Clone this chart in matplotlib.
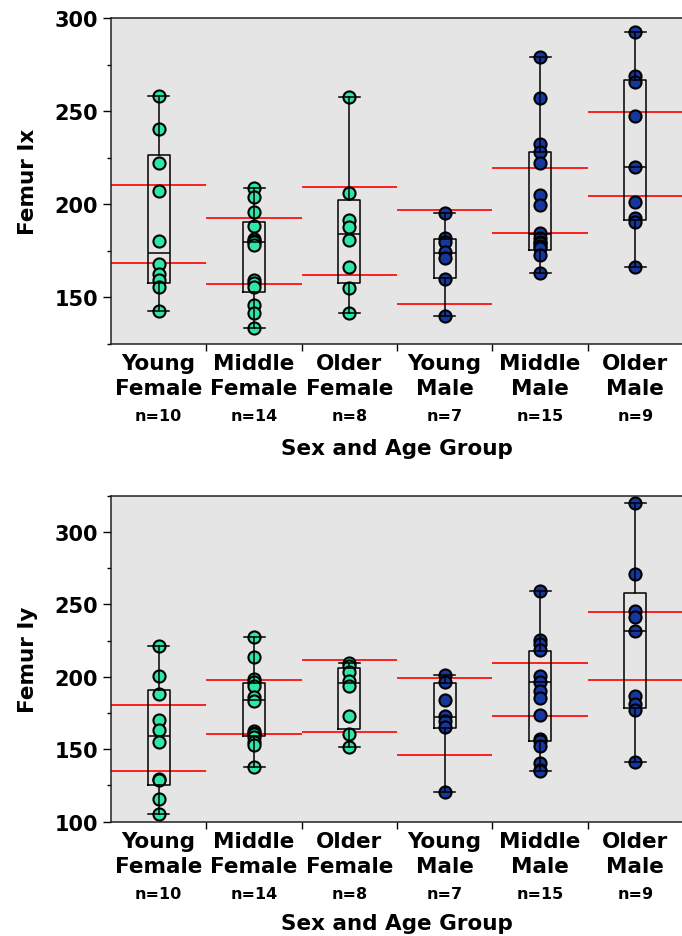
import numpy as np
import matplotlib
matplotlib.use('Agg')
import matplotlib.pyplot as plt
from matplotlib.ticker import MultipleLocator, FixedLocator

groups = ['Young\nFemale', 'Middle\nFemale', 'Older\nFemale',
          'Young\nMale', 'Middle\nMale', 'Older\nMale']
counts = [10, 14, 8, 7, 15, 9]
female_color = '#2ee6a6'
male_color = '#1437a0'
point_colors = [female_color]*3 + [male_color]*3

# Femur Ix per group
ix_points = [
  [258.2, 240.2, 222.1, 207.0, 180.4, 167.9, 162.5, 159.3, 155.4, 142.5],
  [208.5, 204.0, 195.8, 188.5, 181.1, 180.3, 179.9, 178.1, 159.3, 157.5, 155.4, 146.2, 141.8, 133.5],
  [257.3, 206.0, 191.5, 187.6, 181.0, 166.1, 154.8, 141.9],
  [195.3, 181.7, 179.9, 174.5, 171.3, 159.8, 139.8],
  [279.2, 256.8, 232.6, 228.2, 222.3, 204.9, 199.5, 184.7, 181.7, 180.0, 179.0, 177.5, 176.3, 172.7, 162.9],
  [292.6, 269.0, 265.4, 247.5, 219.8, 201.4, 192.8, 190.6, 166.1],
]
ix_q1 = [158.0, 152.9, 158.0, 160.2, 175.4, 191.5]
ix_med = [174.1, 179.9, 184.2, 174.0, 184.2, 219.8]
ix_q3 = [226.4, 190.6, 202.2, 181.3, 228.0, 266.6]
ix_band_lo = [168.4, 157.0, 162.0, 146.4, 184.7, 204.6]
ix_band_hi = [210.6, 192.8, 209.4, 196.9, 219.2, 249.3]

# Femur Iy per group
iy_points = [
  [221.2, 200.3, 187.9, 170.1, 163.2, 155.2, 129.2, 128.5, 115.4, 105.5],
  [227.4, 213.4, 198.4, 196.1, 193.4, 185.8, 183.5, 162.8, 161.5, 160.5, 158.2, 155.0, 153.1, 137.5],
  [209.4, 207.2, 203.0, 196.8, 193.4, 172.9, 160.5, 151.3],
  [201.4, 196.1, 184.1, 172.6, 169.2, 165.5, 120.3],
  [259.3, 225.5, 222.6, 218.6, 200.3, 196.6, 190.3, 185.3, 173.6, 157.0, 155.9, 152.4, 140.5, 136.0, 135.0],
  [319.8, 270.6, 245.3, 241.0, 231.3, 186.9, 181.2, 177.2, 141.4],
]
iy_q1 = [125.1, 158.9, 163.7, 164.6, 155.4, 178.6]
iy_med = [159.3, 184.1, 195.5, 172.0, 196.6, 231.3]
iy_q3 = [190.8, 195.5, 205.8, 195.5, 217.9, 257.5]
iy_band_lo = [135.2, 160.3, 161.9, 145.8, 172.9, 197.7]
iy_band_hi = [180.3, 197.9, 211.7, 199.1, 209.4, 244.8]

panels = [
  ('Femur Ix', ix_points, ix_q1, ix_med, ix_q3, ix_band_lo, ix_band_hi, (125, 300), [150, 200, 250, 300]),
  ('Femur Iy', iy_points, iy_q1, iy_med, iy_q3, iy_band_lo, iy_band_hi, (100, 325), [100, 150, 200, 250, 300]),
]

fig = plt.figure(figsize=(6.82, 9.37), dpi=100)
ax_rects = [[0.1628, 0.6318, 0.8387, 0.348],
            [0.1628, 0.1220, 0.8387, 0.348]]
xlabel_offsets = [-0.287, -0.281]

for rect, xl_off, (ylabel, points, q1, med, q3, band_lo, band_hi, ylim, yticks) in zip(ax_rects, xlabel_offsets, panels):
  ax = fig.add_axes(rect)
  ax.set_facecolor('#e5e5e5')
  x = np.arange(len(groups))

  # mean band lines spanning each group's slot
  for i in x:
    ax.hlines([band_lo[i], band_hi[i]], i - 0.5, i + 0.5, color='red', linewidth=1.2, zorder=2)

  # raw points
  for i in x:
    ax.scatter(np.full(len(points[i]), i), points[i], s=76, color=point_colors[i],
               edgecolor='black', linewidth=1.5, zorder=3)

  # boxes with whiskers to the extremes
  stats = []
  for i in x:
    stats.append({'med': med[i], 'q1': q1[i], 'q3': q3[i],
                  'whislo': min(points[i]), 'whishi': max(points[i]), 'fliers': []})
  ax.bxp(stats, positions=x, widths=0.23, showfliers=False, manage_ticks=False,
         boxprops={'color': 'black', 'linewidth': 1.1},
         medianprops={'color': 'black', 'linewidth': 1.1},
         whiskerprops={'color': 'black', 'linewidth': 1.1},
         capprops={'color': 'black', 'linewidth': 1.1},
         capwidths=0.22, zorder=4)

  ax.set_xlim(-0.5, len(groups) - 0.5)
  ax.set_ylim(*ylim)
  ax.xaxis.set_major_locator(FixedLocator(np.arange(0.5, len(groups) - 0.5)))
  ax.set_xticklabels([])
  ax.tick_params(axis='x', which='major', length=5, width=1)
  ax.set_yticks(yticks)
  ax.yaxis.set_minor_locator(MultipleLocator(25))
  ax.tick_params(axis='y', which='major', length=6, width=1, labelsize=15)
  ax.tick_params(axis='y', which='minor', length=3, width=1)
  for lab in ax.get_yticklabels():
    lab.set_fontweight('bold')
  for sp in ax.spines.values():
    sp.set_linewidth(1.1)
    sp.set_color('#222222')
  ax.set_ylabel(ylabel, fontsize=15.5, fontweight='bold', labelpad=12)

  tr = ax.get_xaxis_transform()
  for i in x:
    ax.text(i, -0.028, groups[i], transform=tr, ha='center', va='top',
            fontsize=15.5, fontweight='bold', linespacing=1.32)
    ax.text(i, -0.196, 'n=%d' % counts[i], transform=tr, ha='center', va='top',
            fontsize=11.5, fontweight='bold')
  ax.text(0.5, xl_off, 'Sex and Age Group', transform=ax.transAxes, ha='center', va='top',
          fontsize=15.5, fontweight='bold')

fig.savefig('out.png', dpi=100)
